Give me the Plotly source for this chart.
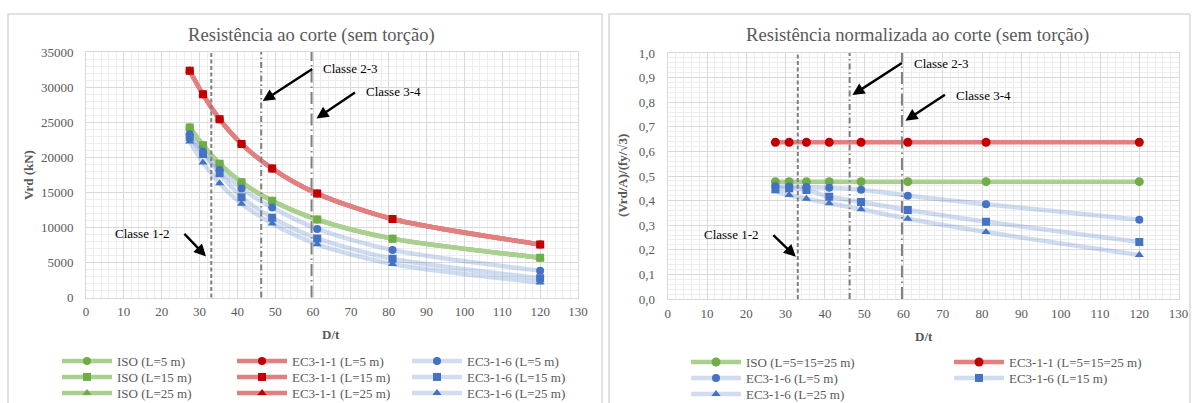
import plotly.graph_objects as go

W, H = 1195, 403

# ---------------- data ----------------
dt = [27.4, 30.9, 35.3, 41.1, 49.2, 61.1, 81.0, 120.0]

# left chart: Vrd (kN)
vrd_iso = [24250, 21720, 19070, 16430, 13790, 11110, 8390, 5680]
vrd_ec311 = [32330, 28960, 25430, 21900, 18390, 14810, 11190, 7570]
vrd_ec316_l5 = [23260, 20790, 18180, 15550, 12820, 9770, 6770, 3830]
vrd_ec316_l15 = [22850, 20470, 17700, 14310, 11380, 8420, 5520, 2760]
vrd_ec316_l25 = [22240, 19240, 16300, 13380, 10540, 7590, 4780, 2130]

# right chart: (Vrd/A)/(fy/sqrt3)
norm_iso = [0.477, 0.477, 0.477, 0.477, 0.477, 0.477, 0.477, 0.477]
norm_ec311 = [0.637, 0.637, 0.637, 0.637, 0.637, 0.637, 0.637, 0.637]
norm_ec316_l5 = [0.458, 0.457, 0.455, 0.452, 0.444, 0.420, 0.385, 0.322]
norm_ec316_l15 = [0.450, 0.450, 0.443, 0.416, 0.394, 0.362, 0.314, 0.232]
norm_ec316_l25 = [0.438, 0.423, 0.408, 0.389, 0.365, 0.326, 0.272, 0.179]

class_limits = [33.1, 46.3, 59.6]
class_labels = ["Classe 1-2", "Classe 2-3", "Classe 3-4"]

left_names = {
    "iso": ["ISO (L=5 m)", "ISO (L=15 m)", "ISO (L=25 m)"],
    "ec311": ["EC3-1-1 (L=5 m)", "EC3-1-1 (L=15 m)", "EC3-1-1 (L=25 m)"],
    "ec316": ["EC3-1-6 (L=5 m)", "EC3-1-6 (L=15 m)", "EC3-1-6 (L=25 m)"],
}

# ---------------- styles ----------------
FONT = "Liberation Serif"
GREY_TXT = "#595959"
GREEN_L, GREEN_M = "#AAD08F", "#70AD47"
RED_L, RED_M = "#E27F7F", "#C00000"
BLUE_L, BLUE_M = "rgba(68,114,196,0.25)", "#4472C4"
SYMS = ["circle", "square", "triangle-up"]

fig = go.Figure()


def add(x, y, name, lc, mc, sym, xa, ya, leg, msize=8):
    fig.add_trace(go.Scatter(
        x=x, y=y, name=name, mode="lines+markers",
        line=dict(color=lc, width=4.5, shape="spline", smoothing=0.8),
        marker=dict(color=mc, symbol=sym, size=msize, line=dict(width=0)),
        xaxis=xa, yaxis=ya, legend=leg, showlegend=True,
    ))


# left chart traces (draw order keeps squares on top for ISO / EC3-1-1)
rows = ["legend", "legend2", "legend3"]
for i in [0, 2, 1]:
    add(dt, vrd_iso, left_names["iso"][i], GREEN_L, GREEN_M, SYMS[i], "x", "y", rows[i])
for i in [0, 2, 1]:
    add(dt, vrd_ec311, left_names["ec311"][i], RED_L, RED_M, SYMS[i], "x", "y", rows[i])
for i, arr in enumerate([vrd_ec316_l5, vrd_ec316_l15, vrd_ec316_l25]):
    add(dt, arr, left_names["ec316"][i], BLUE_L, BLUE_M, SYMS[i], "x", "y", rows[i])

# right chart traces
add(dt, norm_iso, "ISO (L=5=15=25 m)", GREEN_L, GREEN_M, "circle", "x2", "y2", "legend4", 9)
add(dt, norm_ec311, "EC3-1-1 (L=5=15=25 m)", RED_L, RED_M, "circle", "x2", "y2", "legend4", 9)
add(dt, norm_ec316_l5, "EC3-1-6 (L=5 m)", BLUE_L, BLUE_M, "circle", "x2", "y2", "legend5")
add(dt, norm_ec316_l15, "EC3-1-6 (L=15 m)", BLUE_L, BLUE_M, "square", "x2", "y2", "legend5")
add(dt, norm_ec316_l25, "EC3-1-6 (L=25 m)", BLUE_L, BLUE_M, "triangle-up", "x2", "y2", "legend6")

# ---------------- geometry (pixels -> paper) ----------------
def px(x):
    return x / W


def py(y):
    return 1 - y / H


L_X = [86, 578]
L_Y = [52, 297.5]
R_X = [667.7, 1178.6]
R_Y = [53, 299]

tickfont = dict(family=FONT, size=13, color=GREY_TXT)
grid = dict(showgrid=True, gridcolor="#d9d9d9", gridwidth=1, zeroline=False,
            showline=True, linecolor="#d9d9d9", linewidth=1, mirror=True, ticks="",
            tickfont=tickfont, fixedrange=True, automargin=False)

fig.update_layout(
    template="none",
    width=W, height=H, autosize=False,
    margin=dict(l=0, r=0, t=0, b=0, pad=0, autoexpand=False),
    paper_bgcolor="white", plot_bgcolor="white",
    separators=",.",
    font=dict(family=FONT, color=GREY_TXT),
    xaxis=dict(domain=[px(L_X[0]), px(L_X[1])], range=[0, 130], dtick=10, tick0=0,
               anchor="y", minor=dict(dtick=2, showgrid=True, gridcolor="#eeeeee"),
               ticklabelstandoff=2, **grid),
    yaxis=dict(domain=[py(L_Y[1]), py(L_Y[0])], range=[0, 35000], dtick=5000,
               tickformat="d", anchor="x",
               minor=dict(dtick=1000, showgrid=True, gridcolor="#eeeeee"),
               ticklabelstandoff=9, **grid),
    xaxis2=dict(domain=[px(R_X[0]), px(R_X[1])], range=[0, 130], dtick=10, tick0=0,
                anchor="y2", minor=dict(dtick=2, showgrid=True, gridcolor="#eeeeee"),
                ticklabelstandoff=2, **grid),
    yaxis2=dict(domain=[py(R_Y[1]), py(R_Y[0])], range=[0, 1], dtick=0.1,
                tickformat=".1f", anchor="x2",
                minor=dict(dtick=0.02, showgrid=True, gridcolor="#eeeeee"),
                ticklabelstandoff=9, **grid),
)

legfont = dict(family=FONT, size=13, color=GREY_TXT)


def legend(x, y, ew):
    return dict(x=px(x), y=py(y), xanchor="left", yanchor="middle",
                orientation="h", entrywidth=ew, entrywidthmode="pixels",
                itemwidth=50, font=legfont, bgcolor="rgba(0,0,0,0)", borderwidth=0,
                traceorder="normal", itemclick=False, itemdoubleclick=False)


fig.update_layout(
    legend=legend(57, 361, 110),
    legend2=legend(57, 377, 110),
    legend3=legend(57, 393, 110),
    legend4=legend(686, 362, 198),
    legend5=legend(686, 378, 198),
    legend6=legend(686, 394, 198),
)

# ---------------- shapes ----------------
shapes = []
# panel frames
shapes.append(dict(type="rect", xref="paper", yref="paper", x0=px(8), x1=px(602),
                   y0=py(420), y1=py(14), line=dict(color="#d9d9d9", width=1.5),
                   layer="below"))
shapes.append(dict(type="rect", xref="paper", yref="paper", x0=px(609), x1=px(1190),
                   y0=py(420), y1=py(14), line=dict(color="#d9d9d9", width=1.5),
                   layer="below"))
dashes = ["4px,2.5px", "6px,3px,1.5px,3px", "12px,4px,1.5px,4px"]
for xr, yr in [("x", "y domain"), ("x2", "y2 domain")]:
    for lim, d in zip(class_limits, dashes):
        shapes.append(dict(type="line", xref=xr, yref=yr, x0=lim, x1=lim, y0=0, y1=1,
                           line=dict(color="#7f7f7f", width=2, dash=d)))
fig.update_layout(shapes=shapes)

# ---------------- annotations ----------------
ann = []
titlefont = dict(family=FONT, size=18.6, color=GREY_TXT)
ann.append(dict(text="Resistência ao corte (sem torção)", x=px(311), y=py(35),
                xref="paper", yref="paper", xanchor="center", yanchor="middle",
                showarrow=False, font=titlefont))
ann.append(dict(text="Resistência normalizada ao corte (sem torção)", x=px(917), y=py(35),
                xref="paper", yref="paper", xanchor="center", yanchor="middle",
                showarrow=False, font=titlefont))
axfont = dict(family=FONT, size=13, color=GREY_TXT)
ann.append(dict(text="<b>Vrd (kN)</b>", x=px(28), y=py(175), xref="paper", yref="paper",
                xanchor="center", yanchor="middle",
                showarrow=False, textangle=-90, font=axfont))
ann.append(dict(text="<b>(Vrd/A)/(fy/√3)</b>", x=px(622), y=py(176), xref="paper",
                yref="paper", xanchor="center", yanchor="middle",
                showarrow=False, textangle=-90, font=axfont))
ann.append(dict(text="<b>D/t</b>", x=px(331), y=py(334), xref="paper", yref="paper",
                xanchor="center", yanchor="middle", showarrow=False, font=axfont))
ann.append(dict(text="<b>D/t</b>", x=px(924), y=py(336), xref="paper", yref="paper",
                xanchor="center", yanchor="middle", showarrow=False, font=axfont))

lblfont = dict(family=FONT, size=13, color="black")
# arrows: tip in data coords, tail offset in px
arrows = [
    ("x", "y", 31.7, 5860, -23, -24),
    ("x", "y", 46.7, 28000, 51, -33),
    ("x", "y", 60.9, 25530, 40, -27),
    ("x2", "y2", 32.6, 0.172, -24, -23),
    ("x2", "y2", 47.0, 0.829, 51, -33),
    ("x2", "y2", 60.5, 0.725, 41, -27),
]
for xr, yr, x, y, ax, ay in arrows:
    ann.append(dict(text="", x=x, y=y, xref=xr, yref=yr, ax=ax, ay=ay,
                    showarrow=True, arrowhead=2, arrowsize=1, arrowwidth=2.4,
                    arrowcolor="black"))
# labels (pixel positions)
labels = [
    (class_labels[0], 172, 233, "right"),
    (class_labels[1], 321, 69, "left"),
    (class_labels[2], 364, 92, "left"),
    (class_labels[0], 761, 235, "right"),
    (class_labels[1], 912, 63, "left"),
    (class_labels[2], 954, 95, "left"),
]
for t, x, y, xa in labels:
    ann.append(dict(text=t, x=px(x), y=py(y), xref="paper", yref="paper",
                    xanchor=xa, yanchor="middle", showarrow=False, font=lblfont))
fig.update_layout(annotations=ann)

fig.write_html(
    "out.html",
    config={"displayModeBar": False, "staticPlot": False},
    post_script="document.body.style.margin='0';document.body.style.overflow='hidden';",
)
